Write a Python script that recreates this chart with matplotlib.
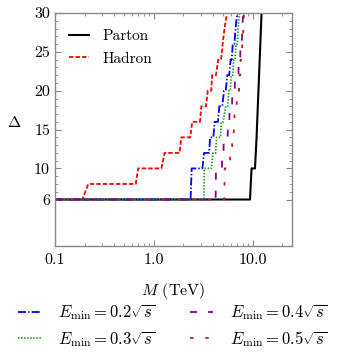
import numpy as np
import matplotlib
matplotlib.use("Agg")
import matplotlib.pyplot as plt
from matplotlib.ticker import FixedLocator, NullFormatter

plt.rcParams['font.family'] = 'serif'
plt.rcParams['font.serif'] = ['cmr10', 'DejaVu Serif']
plt.rcParams['mathtext.fontset'] = 'cm'
plt.rcParams['axes.unicode_minus'] = False
plt.rcParams['lines.scale_dashes'] = False

# step curves: M in TeV, Delta
m_parton = [0.1, 9.42, 9.77, 10.58, 10.98, 12.33]
d_parton = [6, 6, 10, 10, 14, 30]

m_hadron = [0.1, 0.19, 0.217, 0.658, 0.695, 1.195, 1.29, 1.83, 1.90, 2.34, 2.45, 2.94,
            3.03, 3.38, 3.52, 3.82, 3.90, 4.27, 4.49, 4.80, 4.98, 5.2, 5.5]
d_hadron = [6, 6, 8, 8, 10, 10, 12, 12, 14, 14, 16, 16,
            18, 18, 20, 20, 22, 22, 24, 24, 26, 28, 30]

m_e02 = [0.1, 2.36, 2.42, 3.11, 3.23, 3.63, 3.72, 4.01, 4.13, 4.47, 4.61, 4.94,
         5.14, 5.35, 5.55, 5.8, 6.0, 6.15, 6.3, 6.55, 6.73, 7.0]
d_e02 = [6, 6, 10, 10, 12, 12, 14, 14, 16, 16, 18, 18,
         20, 20, 22, 22, 24, 24, 26, 26, 28, 30]

m_e03 = [0.1, 3.22, 3.25, 3.83, 3.98, 4.23, 4.33, 4.75, 4.83, 5.05, 5.34, 5.6,
         5.75, 5.95, 6.1, 6.3, 6.45, 6.65, 6.8, 7.0, 7.15, 7.36]
d_e03 = [6, 6, 10, 10, 12, 12, 14, 14, 16, 16, 18, 18,
         20, 20, 22, 22, 24, 24, 26, 26, 28, 30]

m_e04 = [0.1, 4.23, 4.26, 4.9, 4.94, 5.08, 5.11, 5.6, 5.64, 5.82, 5.86, 6.2,
         6.25, 6.6, 6.65, 7.2, 7.25, 7.5, 7.55, 7.8, 7.85, 8.05]
d_e04 = [6, 6, 10, 10, 12, 12, 14, 14, 16, 16, 18, 18,
         20, 20, 22, 22, 24, 24, 26, 26, 28, 30]

m_e05 = [0.1, 5.18, 5.22, 5.9, 5.94, 6.2, 6.24, 6.45, 6.5, 6.55, 6.6, 6.9,
         6.95, 7.3, 7.35, 7.5, 7.55, 7.8, 7.85, 8.0, 8.05, 8.2]
d_e05 = [6, 6, 10, 10, 12, 12, 14, 14, 16, 16, 18, 18,
         20, 20, 22, 22, 24, 24, 26, 26, 28, 30]

y_ticks = [6, 10, 15, 20, 25, 30]
x_ticks = [0.1, 1.0, 10.0]
x_ticklabels = ["0.1", "1.0", "10.0"]

fig = plt.figure(figsize=(3.39, 3.63), dpi=100)
ax = fig.add_axes([0.162, 0.322, 0.699, 0.642])

ax.plot(m_parton, d_parton, color="black", linewidth=1.5, label="Parton")
ax.plot(m_hadron, d_hadron, color="red", linewidth=1.3, linestyle=(0, (3.2, 1.5)), label="Hadron")
l2, = ax.plot(m_e02, d_e02, color="blue", linewidth=1.3, linestyle=(0, (5.8, 1.5, 1.0, 1.5)))
l3, = ax.plot(m_e03, d_e03, color="#1a9a1a", linewidth=1.3, linestyle=(0, (1.0, 1.2)))
l4, = ax.plot(m_e04, d_e04, color="#8b008b", linewidth=1.3, linestyle=(0, (5.0, 8.0)))
l5, = ax.plot(m_e05, d_e05, color="#b22222", linewidth=1.3, linestyle=(0, (2.5, 8.5)))

ax.set_xscale("log")
ax.set_xlim(0.1, 25)
ax.set_ylim(0, 30)
ax.set_xticks(x_ticks)
ax.set_xticklabels(x_ticklabels)
ax.xaxis.set_minor_formatter(NullFormatter())
ax.set_yticks(y_ticks)
ax.yaxis.set_minor_locator(FixedLocator([v for v in range(7, 30) if v not in y_ticks]))

ax.tick_params(which="both", direction="in", top=True, right=True, color="#888888", labelsize=11.5)
ax.tick_params(which="major", length=4, width=0.8)
ax.tick_params(axis="x", which="major", pad=5.5)
ax.tick_params(which="minor", length=2, width=0.6)
for s in ax.spines.values():
    s.set_color("#888888")
    s.set_linewidth(1.0)

ax.set_xlabel("$M$ (TeV)", fontsize=11.5, labelpad=10)
ax.set_ylabel(r"$\Delta$", fontsize=11.5, rotation=0)
ax.yaxis.set_label_coords(-0.17, 0.5)

ax.legend(loc="upper left", frameon=False, fontsize=11, handlelength=1.3,
          handletextpad=0.9, labelspacing=0.6, bbox_to_anchor=(0.0, 0.99))

fig.legend([l2, l3, l4, l5],
           [r"$E_{\mathrm{min}} = 0.2\sqrt{s}$", r"$E_{\mathrm{min}} = 0.3\sqrt{s}$",
            r"$E_{\mathrm{min}} = 0.4\sqrt{s}$", r"$E_{\mathrm{min}} = 0.5\sqrt{s}$"],
           ncol=2, loc="center", bbox_to_anchor=(0.509, 0.103), frameon=False, fontsize=12,
           handlelength=1.4, handletextpad=1.0, columnspacing=2.1, labelspacing=0.4)

fig.savefig("out.png", dpi=100)
